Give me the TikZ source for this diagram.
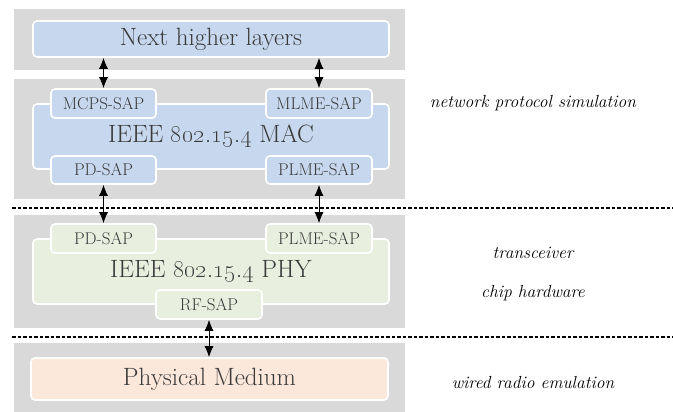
\documentclass[tikz,border=0pt]{standalone}
\usetikzlibrary{arrows.meta}
\definecolor{bandgray}{HTML}{D9D9D9}
\definecolor{macblue}{HTML}{C6D7EE}
\definecolor{phygreen}{HTML}{E9EFDF}
\definecolor{medpeach}{HTML}{FBE8DB}
\definecolor{txt}{HTML}{3A3A3A}
\begin{document}
\begin{tikzpicture}[x=1pt,y=-1pt,
  band/.style={fill=bandgray,draw=none},
  boxbase/.style={draw=white,line width=1.6pt,rounded corners=4pt,text=txt,inner sep=0pt,anchor=center},
  macbox/.style={boxbase,fill=macblue},
  phybox/.style={boxbase,fill=phygreen},
  medbox/.style={boxbase,fill=medpeach},
  bigtxt/.style={font=\fontsize{25}{28}\selectfont},
  saptxt/.style={font=\fontsize{17}{19}\selectfont},
  side/.style={font=\fontsize{17.5}{20}\selectfont\itshape,text=black,anchor=center},
  conn/.style={{Latex[length=11pt,width=9pt]}-{Latex[length=11pt,width=9pt]},line width=0.9pt,black},
  sep/.style={dash pattern=on 3.5pt off 2pt,line width=1.8pt,black}
]
\useasboundingbox (0,0) rectangle (673,412);
% bands
\fill[band] (14,9) rectangle (405,70);
\fill[band] (14,79) rectangle (405,199);
\fill[band] (14,215) rectangle (405,328);
\fill[band] (14,343) rectangle (405,412);
% separators
\coordinate (s1l) at (12,208); \coordinate (s1r) at (673,208);
\coordinate (s2l) at (12,337); \coordinate (s2r) at (673,337);
\draw[sep] (s1l) -- (s1r);
\draw[sep] (s2l) -- (s2r);
% top
\node[macbox,bigtxt,minimum width=356pt,minimum height=36pt] (next) at (211,39) {Next higher layers};
% MAC
\node[macbox,bigtxt,minimum width=356pt,minimum height=65pt] (mac) at (211,136.5) {IEEE \oldstylenums{802.15.4} MAC};
\node[macbox,saptxt,minimum width=105pt,minimum height=29pt] (mcps) at (103.5,103.5) {MCPS-SAP};
\node[macbox,saptxt,minimum width=106pt,minimum height=29pt] (mlme) at (319,103.5) {MLME-SAP};
\node[macbox,saptxt,minimum width=105pt,minimum height=28pt] (pdmac) at (103.5,170) {PD-SAP};
\node[macbox,saptxt,minimum width=106pt,minimum height=28pt] (plmemac) at (319,170) {PLME-SAP};
% PHY
\node[phybox,bigtxt,minimum width=356pt,minimum height=65pt] (phy) at (211,271.5) {IEEE \oldstylenums{802.15.4} PHY};
\node[phybox,saptxt,minimum width=105pt,minimum height=29pt] (pdphy) at (103.5,238.5) {PD-SAP};
\node[phybox,saptxt,minimum width=106pt,minimum height=29pt] (plmephy) at (319,238.5) {PLME-SAP};
\node[phybox,saptxt,minimum width=106pt,minimum height=29pt] (rf) at (209,304.5) {RF-SAP};
% medium
\node[medbox,bigtxt,minimum width=357pt,minimum height=42pt] (medium) at (209.5,379) {Physical Medium};
% connectors
\draw[conn] (next.south -| mcps.north) -- (mcps.north);
\draw[conn] (next.south -| mlme.north) -- (mlme.north);
\draw[conn] (pdmac.south) -- (pdphy.north);
\draw[conn] (plmemac.south) -- (plmephy.north);
\draw[conn] (rf.south) -- (medium.north -| rf.south);
% side labels
\node[side] (l1) at (533,103) {network protocol simulation};
\node[side] (l2) at (533,253) {transceiver};
\node[side] (l3) at (533,293) {chip hardware};
\node[side] (l4) at (533,383) {wired radio emulation};
\end{tikzpicture}
\end{document}
